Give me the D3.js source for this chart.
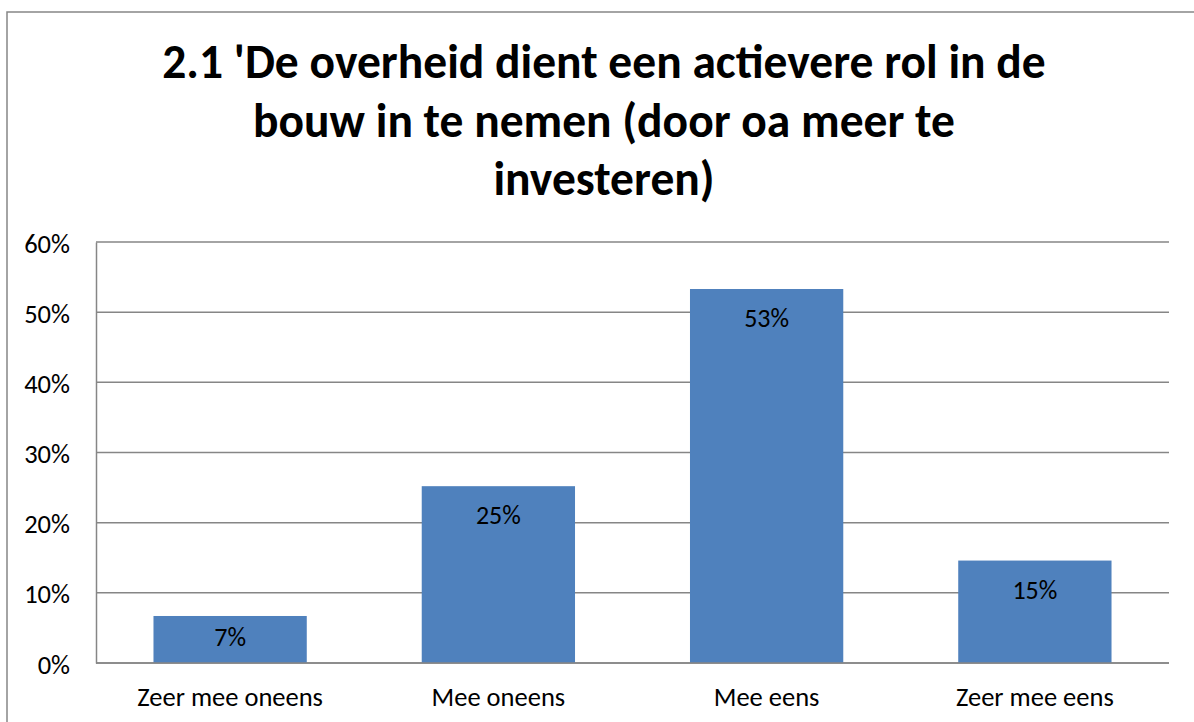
<!DOCTYPE html>
<html>
<head>
<meta charset="utf-8">
<script src="https://cdn.jsdelivr.net/npm/d3@7"></script>
<style>
  body { margin: 0; background: #fff; }
  svg text { font-family: Carlito, Calibri, Lato, sans-serif; fill: #000; }
</style>
</head>
<body>
<div id="chart"></div>
<script>
// Survey answer shares, question 2.1
const titleLines = ["2.1 'De overheid dient een actievere rol in de", "bouw in te nemen (door oa meer te", "investeren)"];
const categories = ["Zeer mee oneens", "Mee oneens", "Mee eens", "Zeer mee eens"];
const values = [0.067, 0.252, 0.533, 0.146];
const labels = ["7%", "25%", "53%", "15%"];
const yTicks = [0, 0.1, 0.2, 0.3, 0.4, 0.5, 0.6];

const width = 1194, height = 722;
const margin = { top: 242, right: 25, bottom: 59, left: 96 };
const innerWidth = width - margin.left - margin.right;
const innerHeight = height - margin.top - margin.bottom;

const svg = d3.select('#chart').append('svg')
    .attr('width', width)
    .attr('height', height);

// chart frame (runs off the right and bottom edge)
svg.append('rect')
    .attr('x', 7).attr('y', 12)
    .attr('width', width + 20).attr('height', height + 20)
    .attr('fill', '#fff')
    .attr('stroke', '#868686')
    .attr('stroke-width', 1.5);

// Title
const title = svg.append('g').attr('class', 'title');
titleLines.forEach((t, i) => {
    title.append('text')
        .attr('x', 604)
        .attr('y', 78 + i * 58.5)
        .attr('text-anchor', 'middle')
        .attr('font-weight', 'bold')
        .attr('font-size', 47.5)
        .text(t);
});

const g = svg.append('g')
    .attr('transform', `translate(${margin.left},${margin.top})`);

// Scales
const x = d3.scaleBand()
    .domain(categories)
    .range([0, innerWidth])
    .paddingInner(0.75 / 1.75)
    .paddingOuter(0.75 / 3.5);

const y = d3.scaleLinear()
    .domain([0, 0.6])
    .range([innerHeight, 0]);

// Gridlines
g.append('g')
    .selectAll('line')
    .data(yTicks)
    .enter()
    .append('line')
    .attr('x1', 0).attr('x2', innerWidth)
    .attr('y1', d => y(d)).attr('y2', d => y(d))
    .attr('stroke', '#868686')
    .attr('stroke-width', 1.5);

// Y-axis
const yAxis = g.append('g')
    .call(d3.axisLeft(y).tickValues(yTicks).tickFormat(d3.format('.0%')).tickSize(0).tickPadding(26));
yAxis.select('.domain').attr('stroke', '#868686').attr('stroke-width', 1.5);
yAxis.selectAll('text').attr('font-size', 26.5).attr('font-family', null).attr('dy', '0.38em');

// Bars
const bars = g.selectAll('.bar')
    .data(values)
    .enter()
    .append('g');

bars.append('rect')
    .attr('x', (d, i) => x(categories[i]))
    .attr('y', d => y(d))
    .attr('width', x.bandwidth())
    .attr('height', d => innerHeight - y(d))
    .attr('fill', '#4F81BD');

// value labels sit inside the bar top, pushed up when the bar is short
bars.append('text')
    .attr('x', (d, i) => x(categories[i]) + x.bandwidth() / 2)
    .attr('y', d => Math.min(y(d) + 38, innerHeight - 17))
    .attr('text-anchor', 'middle')
    .attr('font-size', 26)
    .text((d, i) => labels[i]);

// X-axis
const xAxis = g.append('g')
    .attr('transform', `translate(0,${innerHeight})`)
    .call(d3.axisBottom(x).tickSize(0).tickPadding(24));
xAxis.select('.domain').remove();
xAxis.selectAll('text').attr('font-size', 26.5).attr('font-family', null);

g.append('line')
    .attr('x1', 0).attr('x2', innerWidth)
    .attr('y1', innerHeight).attr('y2', innerHeight)
    .attr('stroke', '#868686')
    .attr('stroke-width', 1.5);
</script>
</body>
</html>
